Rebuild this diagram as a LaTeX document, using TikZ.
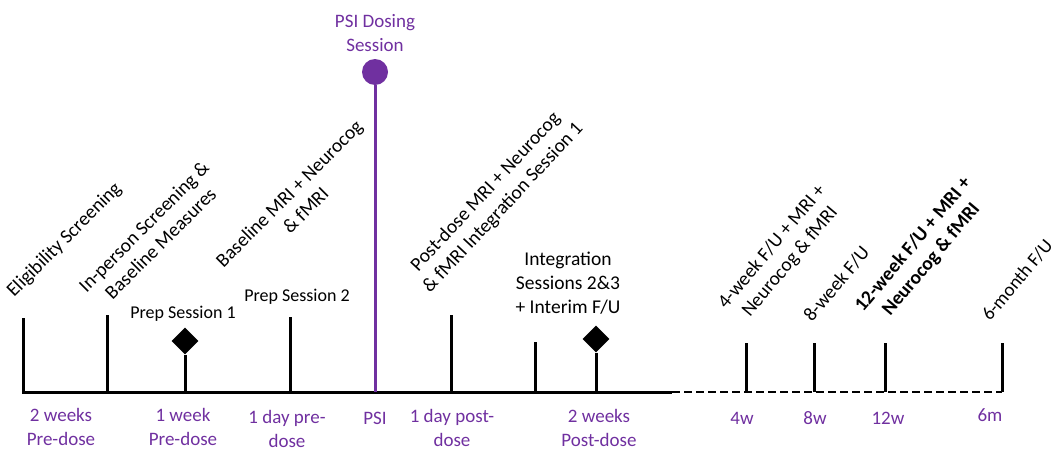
\documentclass[tikz,border=0pt]{standalone}
\usepackage{fontspec}
\setmainfont{Carlito}
\usetikzlibrary{positioning,shapes.geometric}
\definecolor{psipurple}{HTML}{7030A0}
\tikzset{
    axis/.style={line width=3pt, black},
    later/.style={line width=2pt, black, dash pattern=on 8pt off 4pt},
    tick/.style={line width=3pt, black},
    event/.style={font=\fontsize{19.5}{23.5}\selectfont, rotate=45, anchor=base west, inner sep=0pt, align=center},
    session/.style={font=\fontsize{18}{23.5}\selectfont, align=center, inner sep=0pt, anchor=base},
    when/.style={font=\fontsize{19}{23.5}\selectfont, text=psipurple, align=center, inner sep=0pt, anchor=base},
    marker/.style={diamond, fill=black, inner sep=0pt, minimum size=27pt},
    dosing/.style={circle, fill=psipurple, inner sep=0pt, minimum size=26pt}
}

\begin{document}
\begin{tikzpicture}[x=1pt, y=-1pt]
\useasboundingbox (0,0) rectangle (1054,450);

% timeline
\coordinate (start) at (22,392);
\coordinate (solidend) at (672,392);
\coordinate (end) at (1002,392);
\draw[axis] (start) -- (solidend);
\draw[later] (solidend) -- (end);

% plain ticks
\foreach \name/\x/\top in {elig/23/318, inperson/107/315, prep2/290/317, postdose/451/315,
    integ/535/342, fuA/746/343, fuB/814/343, fuC/885/343, fuD/1002/343} {
  \coordinate (\name) at (\x,392);
  \coordinate (\name top) at (\x,\top);
  \draw[tick] (\name) -- (\name top);
}

% diamond sessions
\node[marker] (prep1) at (185,341) {};
\coordinate (prep1 foot) at (185,392);
\draw[tick] (prep1) -- (prep1 foot);
\node[marker] (integ23) at (596,339) {};
\coordinate (integ23 foot) at (596,392);
\draw[tick] (integ23) -- (integ23 foot);

% dosing day
\node[dosing] (dose) at (375,72) {};
\coordinate (dose foot) at (375,392);
\draw[line width=3pt, psipurple] (dose) -- (dose foot);
\node[when] (dosetxt) at (375,51) {PSI Dosing\\Session};

% events above the line
\node[event] (eligtxt) at (14,298) {Eligibility Screening};
\node[event] (inpersontxt) at (103,310) {In-person Screening \&\\Baseline Measures};
\node[event] (baselinetxt) at (240,285) {Baseline MRI + Neurocog\\\& fMRI};
\node[event, rotate=2] (postdosetxt) at (430,294) {Post-dose MRI + Neurocog\\\& fMRI Integration Session 1};
\node[event, rotate=5] (fuAtxt) at (744,325) {4-week F/U + MRI +\\Neurocog \& fMRI};
\node[event, rotate=5] (fuBtxt) at (812,323) {8-week F/U};
\node[event, rotate=5, font=\fontsize{19.5}{23.5}\selectfont\bfseries] (fuCtxt) at (881,328) {12-week F/U + MRI +\\Neurocog \& fMRI};
\node[event, rotate=5, font=\fontsize{19}{23.5}\selectfont] (fuDtxt) at (990,322) {6-month F/U};

\node[session] (prep1txt) at (183,318) {Prep Session 1};
\node[session] (prep2txt) at (297,301) {Prep Session 2};
\node[session, font=\fontsize{19.5}{24}\selectfont] (integtxt) at (568,313) {Integration\\Sessions 2\&3\\+ Interim F/U};

% time points below the line
\node[when] (w2pre) at (61,445) {2 weeks\\Pre-dose};
\node[when] (w1pre) at (183,445) {1 week\\Pre-dose};
\node[when] (d1pre) at (287,447) {1 day pre-\\dose};
\node[when] (psi) at (375,424) {PSI};
\node[when] (d1post) at (452,446) {1 day post-\\dose};
\node[when] (w2post) at (599,446) {2 weeks\\Post-dose};
\node[when] (w4) at (742,424) {4w};
\node[when] (w8) at (815,424) {8w};
\node[when] (w12) at (888,424) {12w};
\node[when] (m6) at (990,421) {6m};
\end{tikzpicture}
\end{document}
